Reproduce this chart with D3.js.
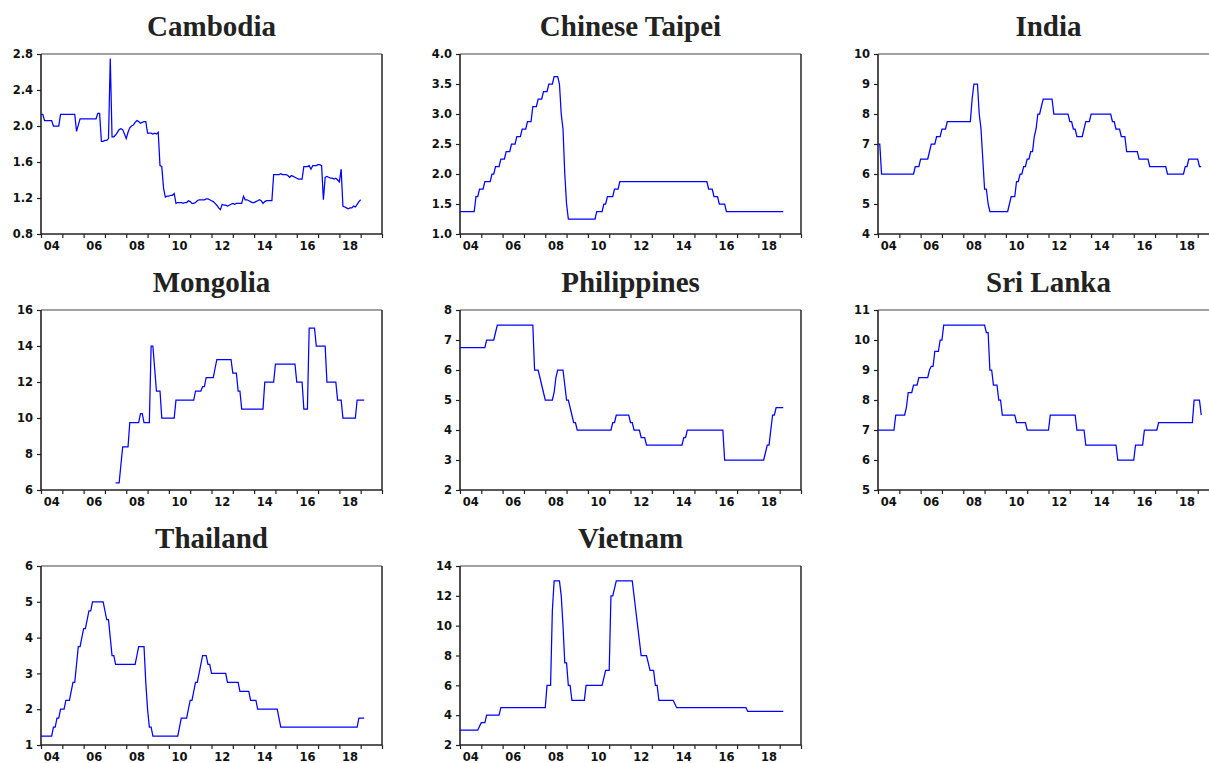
<!DOCTYPE html>
<html>
<head>
<meta charset="utf-8">
<script src="https://cdn.jsdelivr.net/npm/d3@7"></script>
<style>
  html, body { margin: 0; padding: 0; background: #ffffff; }
  svg { display: block; }
</style>
</head>
<body>
<svg id="chart" width="1209" height="763"></svg>
<script>
// ---------------- DATA (monthly, starting 2004-01) ----------------
const startYear = 2004;
const axisYears = [2004,2005,2006,2007,2008,2009,2010,2011,2012,2013,2014,2015,2016,2017,2018,2019,2020];
const labelYears = [2004,2006,2008,2010,2012,2014,2016,2018];

const countries = ["Cambodia","Chinese Taipei","India","Mongolia","Philippines","Sri Lanka","Thailand","Vietnam"];

const cambodia = [
  [2.13,2.13,2.06,2.06,2.06,2.06,2.06,2.00,2.00,2.00,2.00,2.13],
  [2.13,2.13,2.13,2.13,2.13,2.13,2.13,2.13,1.94,2.01,2.08,2.08],
  [2.08,2.08,2.08,2.08,2.08,2.08,2.08,2.08,2.14,2.14,1.83,1.83],
  [1.84,1.84,1.86,2.75,1.88,1.88,1.90,1.93,1.96,1.97,1.96,1.91],
  [1.86,1.93,1.98,2.00,2.01,2.04,2.06,2.05,2.03,2.04,2.05,2.05],
  [1.92,1.92,1.92,1.91,1.92,1.91,1.93,1.56,1.55,1.31,1.21,1.22],
  [1.22,1.23,1.23,1.25,1.14,1.15,1.15,1.15,1.14,1.15,1.15,1.17],
  [1.16,1.14,1.14,1.15,1.17,1.18,1.18,1.18,1.18,1.19,1.19,1.18],
  [1.17,1.16,1.14,1.12,1.09,1.07,1.13,1.12,1.12,1.11,1.12,1.13],
  [1.14,1.13,1.14,1.14,1.14,1.14,1.22,1.18,1.18,1.17,1.16,1.15],
  [1.15,1.16,1.17,1.18,1.17,1.14,1.16,1.17,1.17,1.17,1.17,1.46],
  [1.46,1.46,1.46,1.47,1.46,1.46,1.46,1.45,1.43,1.45,1.44,1.43],
  [1.42,1.41,1.41,1.41,1.55,1.55,1.55,1.56,1.52,1.56,1.56,1.56],
  [1.57,1.57,1.56,1.18,1.43,1.44,1.43,1.42,1.42,1.41,1.42,1.40],
  [1.38,1.52,1.11,1.10,1.09,1.08,1.09,1.09,1.11,1.10,1.13,1.16],
  [1.18]
].flat();

const chineseTaipei = [
  [1.375,1.375,1.375,1.375,1.375,1.375,1.375,1.375,1.375,1.625,1.625,1.75],
  [1.75,1.75,1.875,1.875,1.875,1.875,2.0,2.0,2.125,2.125,2.125,2.25],
  [2.25,2.25,2.375,2.375,2.375,2.5,2.5,2.5,2.625,2.625,2.625,2.75],
  [2.75,2.75,2.875,2.875,2.875,3.125,3.125,3.125,3.25,3.25,3.25,3.375],
  [3.375,3.375,3.5,3.5,3.5,3.625,3.625,3.625,3.5,3.0,2.75,2.0],
  [1.5,1.25,1.25,1.25,1.25,1.25,1.25,1.25,1.25,1.25,1.25,1.25],
  [1.25,1.25,1.25,1.25,1.25,1.375,1.375,1.375,1.375,1.5,1.5,1.625],
  [1.625,1.625,1.625,1.75,1.75,1.75,1.875,1.875,1.875,1.875,1.875,1.875],
  [1.875,1.875,1.875,1.875,1.875,1.875,1.875,1.875,1.875,1.875,1.875,1.875],
  [1.875,1.875,1.875,1.875,1.875,1.875,1.875,1.875,1.875,1.875,1.875,1.875],
  [1.875,1.875,1.875,1.875,1.875,1.875,1.875,1.875,1.875,1.875,1.875,1.875],
  [1.875,1.875,1.875,1.875,1.875,1.875,1.875,1.875,1.75,1.75,1.75,1.625],
  [1.625,1.625,1.5,1.5,1.5,1.5,1.375,1.375,1.375,1.375,1.375,1.375],
  [1.375,1.375,1.375,1.375,1.375,1.375,1.375,1.375,1.375,1.375,1.375,1.375],
  [1.375,1.375,1.375,1.375,1.375,1.375,1.375,1.375,1.375,1.375,1.375,1.375],
  [1.375,1.375,1.375]
].flat();

const india = [
  [7.0,7.0,6.0,6.0,6.0,6.0,6.0,6.0,6.0,6.0,6.0,6.0],
  [6.0,6.0,6.0,6.0,6.0,6.0,6.0,6.0,6.0,6.25,6.25,6.25],
  [6.5,6.5,6.5,6.5,6.5,6.75,7.0,7.0,7.0,7.25,7.25,7.25],
  [7.5,7.5,7.5,7.75,7.75,7.75,7.75,7.75,7.75,7.75,7.75,7.75],
  [7.75,7.75,7.75,7.75,7.75,8.5,9.0,9.0,9.0,8.0,7.5,6.5],
  [5.5,5.5,5.0,4.75,4.75,4.75,4.75,4.75,4.75,4.75,4.75,4.75],
  [4.75,4.75,5.0,5.25,5.25,5.25,5.75,5.75,6.0,6.0,6.25,6.25],
  [6.5,6.5,6.75,6.75,7.25,7.5,8.0,8.0,8.25,8.5,8.5,8.5],
  [8.5,8.5,8.5,8.0,8.0,8.0,8.0,8.0,8.0,8.0,8.0,8.0],
  [7.75,7.75,7.5,7.5,7.25,7.25,7.25,7.25,7.5,7.75,7.75,7.75],
  [8.0,8.0,8.0,8.0,8.0,8.0,8.0,8.0,8.0,8.0,8.0,8.0],
  [7.75,7.75,7.5,7.5,7.5,7.25,7.25,7.25,6.75,6.75,6.75,6.75],
  [6.75,6.75,6.75,6.5,6.5,6.5,6.5,6.5,6.5,6.25,6.25,6.25],
  [6.25,6.25,6.25,6.25,6.25,6.25,6.25,6.0,6.0,6.0,6.0,6.0],
  [6.0,6.0,6.0,6.0,6.0,6.25,6.25,6.5,6.5,6.5,6.5,6.5],
  [6.5,6.25,6.25]
].flat();

const mongolia = [
  [null,null,null,null,null,null,null,null,null,null,null,null],
  [null,null,null,null,null,null,null,null,null,null,null,null],
  [null,null,null,null,null,null,null,null,null,null,null,null],
  [null,null,null,null,null,null,6.4,6.4,6.4,7.4,8.4,8.4],
  [8.4,8.4,9.75,9.75,9.75,9.75,9.75,9.75,10.25,10.25,9.75,9.75],
  [9.75,9.75,14.0,14.0,12.75,11.5,11.5,11.5,10.0,10.0,10.0,10.0],
  [10.0,10.0,10.0,10.0,11.0,11.0,11.0,11.0,11.0,11.0,11.0,11.0],
  [11.0,11.0,11.0,11.5,11.5,11.5,11.5,11.75,11.75,12.25,12.25,12.25],
  [12.25,12.25,12.75,13.25,13.25,13.25,13.25,13.25,13.25,13.25,13.25,13.25],
  [12.5,12.5,12.5,11.5,11.5,10.5,10.5,10.5,10.5,10.5,10.5,10.5],
  [10.5,10.5,10.5,10.5,10.5,10.5,12.0,12.0,12.0,12.0,12.0,12.0],
  [13.0,13.0,13.0,13.0,13.0,13.0,13.0,13.0,13.0,13.0,13.0,13.0],
  [12.0,12.0,12.0,12.0,10.5,10.5,10.5,15.0,15.0,15.0,15.0,14.0],
  [14.0,14.0,14.0,14.0,14.0,12.0,12.0,12.0,12.0,12.0,12.0,11.0],
  [11.0,11.0,10.0,10.0,10.0,10.0,10.0,10.0,10.0,10.0,11.0,11.0],
  [11.0,11.0,11.0]
].flat();

const philippines = [
  [6.75,6.75,6.75,6.75,6.75,6.75,6.75,6.75,6.75,6.75,6.75,6.75],
  [6.75,6.75,6.75,7.0,7.0,7.0,7.0,7.0,7.25,7.5,7.5,7.5],
  [7.5,7.5,7.5,7.5,7.5,7.5,7.5,7.5,7.5,7.5,7.5,7.5],
  [7.5,7.5,7.5,7.5,7.5,7.5,6.0,6.0,6.0,5.75,5.5,5.25],
  [5.0,5.0,5.0,5.0,5.0,5.25,5.75,6.0,6.0,6.0,6.0,5.5],
  [5.0,5.0,4.75,4.5,4.25,4.25,4.0,4.0,4.0,4.0,4.0,4.0],
  [4.0,4.0,4.0,4.0,4.0,4.0,4.0,4.0,4.0,4.0,4.0,4.0],
  [4.0,4.0,4.25,4.25,4.5,4.5,4.5,4.5,4.5,4.5,4.5,4.5],
  [4.25,4.25,4.0,4.0,4.0,4.0,3.75,3.75,3.75,3.5,3.5,3.5],
  [3.5,3.5,3.5,3.5,3.5,3.5,3.5,3.5,3.5,3.5,3.5,3.5],
  [3.5,3.5,3.5,3.5,3.5,3.5,3.75,3.75,4.0,4.0,4.0,4.0],
  [4.0,4.0,4.0,4.0,4.0,4.0,4.0,4.0,4.0,4.0,4.0,4.0],
  [4.0,4.0,4.0,4.0,4.0,3.0,3.0,3.0,3.0,3.0,3.0,3.0],
  [3.0,3.0,3.0,3.0,3.0,3.0,3.0,3.0,3.0,3.0,3.0,3.0],
  [3.0,3.0,3.0,3.0,3.25,3.5,3.5,4.0,4.5,4.5,4.75,4.75],
  [4.75,4.75,4.75]
].flat();

const sriLanka = [
  [7.0,7.0,7.0,7.0,7.0,7.0,7.0,7.0,7.0,7.0,7.5,7.5],
  [7.5,7.5,7.5,7.5,7.75,8.25,8.25,8.25,8.5,8.5,8.5,8.75],
  [8.75,8.75,8.75,8.75,8.75,9.0,9.125,9.125,9.625,9.625,9.625,10.0],
  [10.0,10.5,10.5,10.5,10.5,10.5,10.5,10.5,10.5,10.5,10.5,10.5],
  [10.5,10.5,10.5,10.5,10.5,10.5,10.5,10.5,10.5,10.5,10.5,10.5],
  [10.5,10.25,10.25,9.0,9.0,8.5,8.5,8.5,8.0,8.0,7.5,7.5],
  [7.5,7.5,7.5,7.5,7.5,7.5,7.25,7.25,7.25,7.25,7.25,7.25],
  [7.0,7.0,7.0,7.0,7.0,7.0,7.0,7.0,7.0,7.0,7.0,7.0],
  [7.0,7.5,7.5,7.5,7.5,7.5,7.5,7.5,7.5,7.5,7.5,7.5],
  [7.5,7.5,7.5,7.5,7.0,7.0,7.0,7.0,7.0,6.5,6.5,6.5],
  [6.5,6.5,6.5,6.5,6.5,6.5,6.5,6.5,6.5,6.5,6.5,6.5],
  [6.5,6.5,6.5,6.0,6.0,6.0,6.0,6.0,6.0,6.0,6.0,6.0],
  [6.0,6.5,6.5,6.5,6.5,6.5,7.0,7.0,7.0,7.0,7.0,7.0],
  [7.0,7.0,7.25,7.25,7.25,7.25,7.25,7.25,7.25,7.25,7.25,7.25],
  [7.25,7.25,7.25,7.25,7.25,7.25,7.25,7.25,7.25,7.25,8.0,8.0],
  [8.0,8.0,7.5]
].flat();

const thailand = [
  [1.25,1.25,1.25,1.25,1.25,1.25,1.25,1.5,1.5,1.75,1.75,2.0],
  [2.0,2.0,2.25,2.25,2.25,2.5,2.75,2.75,3.25,3.75,3.75,4.0],
  [4.25,4.25,4.5,4.75,4.75,5.0,5.0,5.0,5.0,5.0,5.0,5.0],
  [4.75,4.5,4.5,4.0,3.5,3.5,3.25,3.25,3.25,3.25,3.25,3.25],
  [3.25,3.25,3.25,3.25,3.25,3.25,3.5,3.75,3.75,3.75,3.75,2.75],
  [2.0,1.5,1.5,1.25,1.25,1.25,1.25,1.25,1.25,1.25,1.25,1.25],
  [1.25,1.25,1.25,1.25,1.25,1.25,1.5,1.75,1.75,1.75,1.75,2.0],
  [2.25,2.25,2.5,2.75,2.75,3.0,3.25,3.5,3.5,3.5,3.25,3.25],
  [3.0,3.0,3.0,3.0,3.0,3.0,3.0,3.0,3.0,2.75,2.75,2.75],
  [2.75,2.75,2.75,2.75,2.5,2.5,2.5,2.5,2.5,2.5,2.25,2.25],
  [2.25,2.25,2.0,2.0,2.0,2.0,2.0,2.0,2.0,2.0,2.0,2.0],
  [2.0,2.0,1.75,1.5,1.5,1.5,1.5,1.5,1.5,1.5,1.5,1.5],
  [1.5,1.5,1.5,1.5,1.5,1.5,1.5,1.5,1.5,1.5,1.5,1.5],
  [1.5,1.5,1.5,1.5,1.5,1.5,1.5,1.5,1.5,1.5,1.5,1.5],
  [1.5,1.5,1.5,1.5,1.5,1.5,1.5,1.5,1.5,1.5,1.5,1.75],
  [1.75,1.75,1.75]
].flat();

const vietnam = [
  [3.0,3.0,3.0,3.0,3.0,3.0,3.0,3.0,3.0,3.0,3.0,3.25],
  [3.5,3.5,3.5,4.0,4.0,4.0,4.0,4.0,4.0,4.0,4.0,4.5],
  [4.5,4.5,4.5,4.5,4.5,4.5,4.5,4.5,4.5,4.5,4.5,4.5],
  [4.5,4.5,4.5,4.5,4.5,4.5,4.5,4.5,4.5,4.5,4.5,4.5],
  [4.5,6.0,6.0,6.0,11.0,13.0,13.0,13.0,13.0,12.0,10.0,7.5],
  [7.5,6.0,6.0,5.0,5.0,5.0,5.0,5.0,5.0,5.0,5.0,6.0],
  [6.0,6.0,6.0,6.0,6.0,6.0,6.0,6.0,6.0,6.5,7.0,7.0],
  [7.0,12.0,12.0,12.5,13.0,13.0,13.0,13.0,13.0,13.0,13.0,13.0],
  [13.0,13.0,12.0,11.0,10.0,9.0,8.0,8.0,8.0,8.0,7.5,7.0],
  [7.0,7.0,6.0,6.0,5.0,5.0,5.0,5.0,5.0,5.0,5.0,5.0],
  [5.0,4.75,4.5,4.5,4.5,4.5,4.5,4.5,4.5,4.5,4.5,4.5],
  [4.5,4.5,4.5,4.5,4.5,4.5,4.5,4.5,4.5,4.5,4.5,4.5],
  [4.5,4.5,4.5,4.5,4.5,4.5,4.5,4.5,4.5,4.5,4.5,4.5],
  [4.5,4.5,4.5,4.5,4.5,4.5,4.25,4.25,4.25,4.25,4.25,4.25],
  [4.25,4.25,4.25,4.25,4.25,4.25,4.25,4.25,4.25,4.25,4.25,4.25],
  [4.25,4.25,4.25]
].flat();

// y-axis tick labels per panel
const cambodiaTicks      = ["0.8","1.2","1.6","2.0","2.4","2.8"];
const chineseTaipeiTicks = ["1.0","1.5","2.0","2.5","3.0","3.5","4.0"];
const indiaTicks         = ["4","5","6","7","8","9","10"];
const mongoliaTicks      = ["6","8","10","12","14","16"];
const philippinesTicks   = ["2","3","4","5","6","7","8"];
const sriLankaTicks      = ["5","6","7","8","9","10","11"];
const thailandTicks      = ["1","2","3","4","5","6"];
const vietnamTicks       = ["2","4","6","8","10","12","14"];

const seriesList = [cambodia, chineseTaipei, india, mongolia, philippines, sriLanka, thailand, vietnam];
const tickList = [cambodiaTicks, chineseTaipeiTicks, indiaTicks, mongoliaTicks, philippinesTicks, sriLankaTicks, thailandTicks, vietnamTicks];

// ---------------- LAYOUT ----------------
const colLeft = [41, 460, 878];
const rowTop = [54, 310, 566];
const rowH = [180, 180, 179];
const plotW = 341;

const svg = d3.select("#chart");
const tickFont = "'DejaVu Sans', Verdana, sans-serif";

countries.forEach((name, i) => {
  const col = i % 3, row = Math.floor(i / 3);
  const x0 = colLeft[col], y0 = rowTop[row], plotH = rowH[row];
  const g = svg.append("g").attr("transform", `translate(${x0},${y0})`);

  const ticks = tickList[i];
  const tickVals = ticks.map(Number);
  const x = d3.scaleLinear().domain([axisYears[0], axisYears[axisYears.length - 1]]).range([0, plotW]);
  const y = d3.scaleLinear().domain([tickVals[0], tickVals[tickVals.length - 1]]).range([plotH, 0]);

  // title
  g.append("text")
    .attr("x", plotW / 2).attr("y", -18)
    .attr("text-anchor", "middle")
    .attr("font-family", "'Liberation Serif', 'Times New Roman', serif")
    .attr("font-weight", "bold")
    .attr("font-size", "29px")
    .attr("fill", "#222")
    .text(name);

  // y axis ticks + labels
  const yAxis = d3.axisLeft(y).tickValues(tickVals).tickSize(4).tickPadding(4)
    .tickFormat((d, k) => ticks[k]);
  const ya = g.append("g").call(yAxis);
  ya.select(".domain").remove();
  ya.selectAll("line").attr("stroke", "#222").attr("stroke-width", 1.2);
  ya.selectAll("text")
    .attr("font-family", tickFont)
    .attr("font-weight", "bold").attr("font-size", "11.5px").attr("fill", "#111");

  // x axis ticks (every year)
  const xAxis = d3.axisBottom(x).tickValues(axisYears).tickSize(4).tickFormat("");
  const xa = g.append("g").attr("transform", `translate(0,${plotH})`).call(xAxis);
  xa.select(".domain").remove();
  xa.selectAll("line").attr("stroke", "#222").attr("stroke-width", 1.2);

  // x labels centred in even years
  g.append("g").selectAll("text")
    .data(labelYears).join("text")
    .attr("x", d => x(d + 0.5))
    .attr("y", plotH + 16)
    .attr("text-anchor", "middle")
    .attr("font-family", tickFont)
    .attr("font-weight", "bold").attr("font-size", "11.5px").attr("fill", "#111")
    .text(d => String(d % 100).padStart(2, "0"));

  // frame
  g.append("line").attr("x1", 0).attr("x2", plotW).attr("y1", 0).attr("y2", 0)
    .attr("stroke", "#444").attr("stroke-width", 1);
  g.append("line").attr("x1", plotW).attr("x2", plotW).attr("y1", 0).attr("y2", plotH)
    .attr("stroke", "#333").attr("stroke-width", 1.6);
  g.append("line").attr("x1", 0).attr("x2", 0).attr("y1", 0).attr("y2", plotH)
    .attr("stroke", "#222").attr("stroke-width", 1.6);
  g.append("line").attr("x1", 0).attr("x2", plotW).attr("y1", plotH).attr("y2", plotH)
    .attr("stroke", "#222").attr("stroke-width", 1.6);

  // series line
  const data = seriesList[i].map((v, m) => ({ t: startYear + m / 12, v }));
  const line = d3.line()
    .defined(d => d.v !== null)
    .x(d => x(d.t))
    .y(d => y(d.v));
  g.append("path")
    .datum(data)
    .attr("d", line)
    .attr("fill", "none")
    .attr("stroke", "#0000ff")
    .attr("stroke-width", 1.25);
});
</script>
</body>
</html>
